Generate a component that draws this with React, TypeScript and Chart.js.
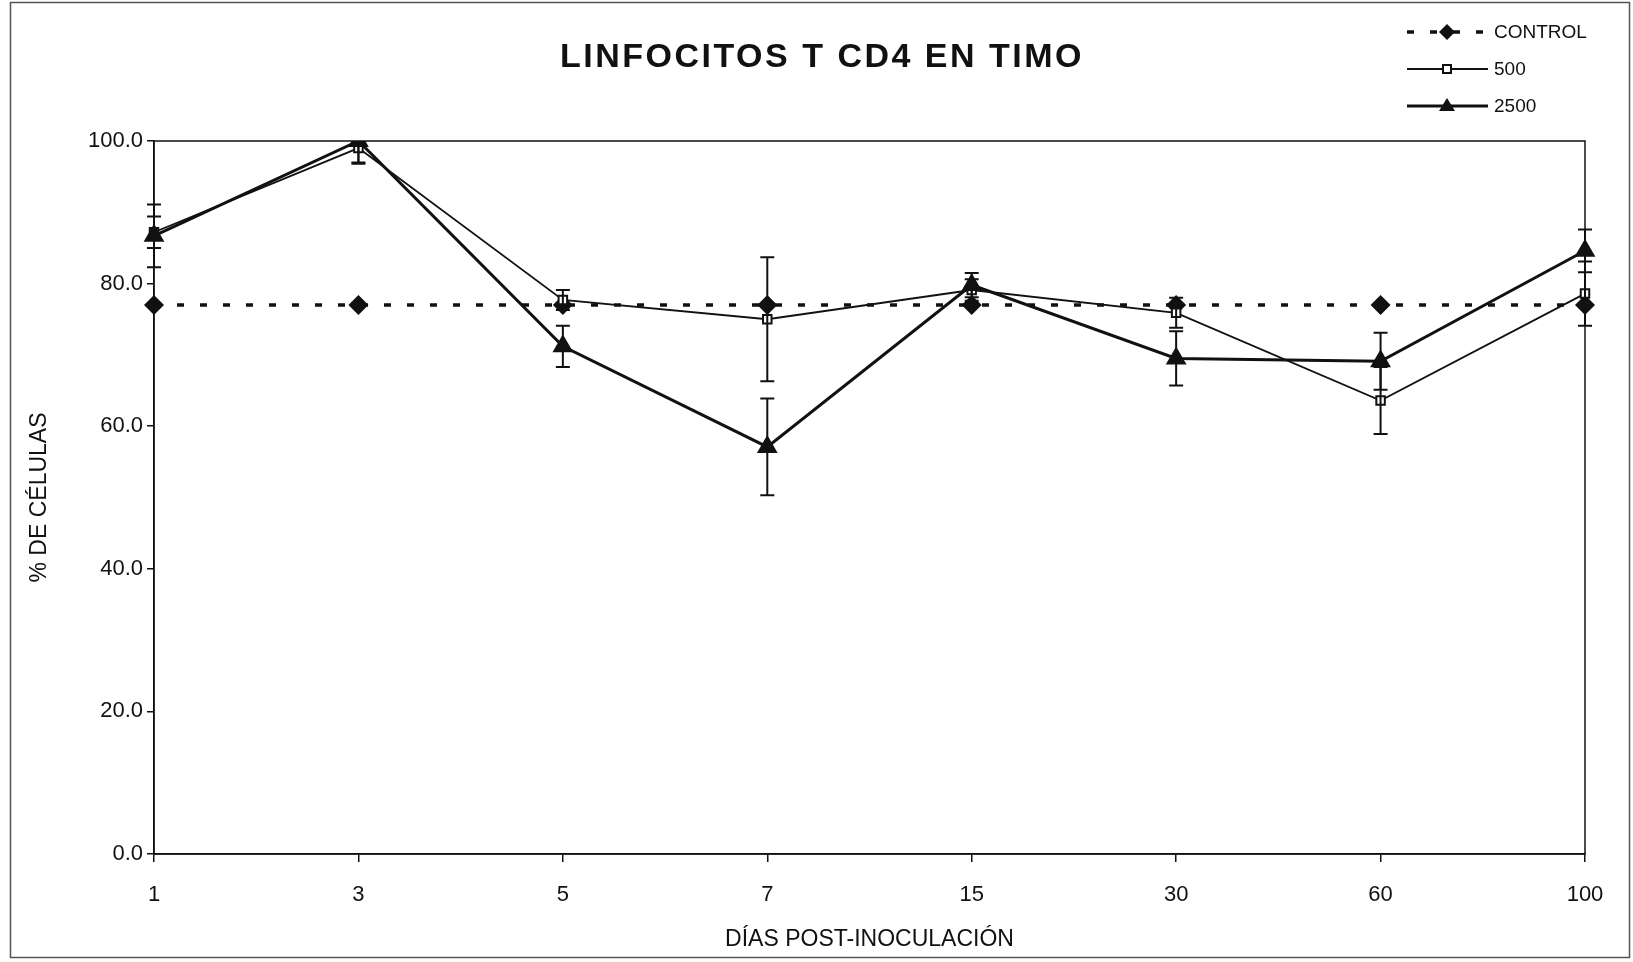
import React, { useEffect, useRef } from "react";
import { Chart, registerables } from "chart.js";

Chart.register(...registerables);

const chartTitle = "LINFOCITOS T CD4 EN TIMO";
const xAxisTitle = "DÍAS POST-INOCULACIÓN";
const yAxisTitle = "% DE CÉLULAS";
const days = ["1", "3", "5", "7", "15", "30", "60", "100"];
const seriesNames = ["CONTROL", "500", "2500"];
const controlValues = [77.0, 77.0, 77.0, 77.0, 77.0, 77.0, 77.0, 77.0];
const values500 = [87.2, 99.0, 77.7, 75.0, 79.1, 75.9, 63.6, 78.6];
const values2500 = [86.7, 100.0, 71.2, 57.1, 79.8, 69.5, 69.1, 84.6];
const errors500 = [2.2, 2.0, 1.4, 8.7, 1.5, 2.1, 4.7, 4.5];
const errors2500 = [4.4, 3.2, 2.9, 6.8, 1.7, 3.8, 4.0, 3.0];
const yTicks = [0, 20, 40, 60, 80, 100];

const FONT = '"Liberation Sans", Arial, sans-serif';

export default function App() {
  const ref = useRef<HTMLCanvasElement | null>(null);

  useEffect(() => {
    if (!ref.current) return;

    const errorBars = {
      id: "errorBars",
      afterDatasetsDraw(chart: any) {
        const { ctx, chartArea } = chart;
        const y = chart.scales.y;
        const x = chart.scales.x;
        ctx.save();
        ctx.beginPath();
        ctx.rect(chartArea.left - 20, chartArea.top, chartArea.right - chartArea.left + 40, chartArea.bottom - chartArea.top);
        ctx.clip();
        ctx.strokeStyle = "#111";
        ctx.lineWidth = 2;
        const sets = [
          { vals: values500, errs: errors500 },
          { vals: values2500, errs: errors2500 },
        ];
        sets.forEach((s) => {
          s.vals.forEach((v, i) => {
            const px = x.getPixelForValue(i);
            const top = y.getPixelForValue(v + s.errs[i]);
            const bot = y.getPixelForValue(v - s.errs[i]);
            ctx.beginPath();
            ctx.moveTo(px, top);
            ctx.lineTo(px, bot);
            ctx.moveTo(px - 7, top);
            ctx.lineTo(px + 7, top);
            ctx.moveTo(px - 7, bot);
            ctx.lineTo(px + 7, bot);
            ctx.stroke();
          });
        });
        ctx.restore();
      },
    };

    const decorations = {
      id: "decorations",
      beforeDraw(chart: any) {
        const { ctx } = chart;
        ctx.save();
        ctx.fillStyle = "#fff";
        ctx.fillRect(0, 0, chart.width, chart.height);
        ctx.strokeStyle = "#555";
        ctx.lineWidth = 1.5;
        ctx.strokeRect(10.5, 2.5, 1619, 955);
        ctx.restore();
      },
      afterDraw(chart: any) {
        const { ctx, chartArea } = chart;
        ctx.save();
        // plot frame
        ctx.strokeStyle = "#111";
        ctx.lineWidth = 1.5;
        ctx.strokeRect(chartArea.left, chartArea.top, chartArea.right - chartArea.left, chartArea.bottom - chartArea.top);
        // title
        ctx.fillStyle = "#111";
        ctx.font = `bold 34px ${FONT}`;
        (ctx as any).letterSpacing = "2.5px";
        ctx.textAlign = "center";
        ctx.textBaseline = "middle";
        ctx.fillText(chartTitle, 822, 58);
        (ctx as any).letterSpacing = "0px";
        // legend
        const rows = [32, 69, 106];
        const x0 = 1407;
        const x1 = 1488;
        const xm = 1447;
        ctx.font = `19px ${FONT}`;
        ctx.textAlign = "left";
        rows.forEach((ry, i) => {
          ctx.strokeStyle = "#111";
          ctx.fillStyle = "#111";
          ctx.beginPath();
          if (i === 0) {
            ctx.lineWidth = 3.5;
            ctx.setLineDash([7, 16]);
          } else {
            ctx.lineWidth = i === 1 ? 1.8 : 3;
            ctx.setLineDash([]);
          }
          ctx.moveTo(x0, ry);
          ctx.lineTo(x1, ry);
          ctx.stroke();
          ctx.setLineDash([]);
          ctx.beginPath();
          if (i === 0) {
            ctx.moveTo(xm, ry - 8);
            ctx.lineTo(xm + 8, ry);
            ctx.lineTo(xm, ry + 8);
            ctx.lineTo(xm - 8, ry);
            ctx.closePath();
            ctx.fill();
          } else if (i === 1) {
            ctx.fillStyle = "#fff";
            ctx.lineWidth = 2;
            ctx.rect(xm - 4, ry - 4, 8, 8);
            ctx.fill();
            ctx.stroke();
          } else {
            ctx.moveTo(xm, ry - 8);
            ctx.lineTo(xm + 8, ry + 5);
            ctx.lineTo(xm - 8, ry + 5);
            ctx.closePath();
            ctx.fill();
          }
          ctx.fillStyle = "#111";
          ctx.fillText(seriesNames[i], 1494, ry + 1);
        });
        ctx.restore();
      },
    };

    const chart = new Chart(ref.current, {
      type: "line",
      data: {
        labels: days,
        datasets: [
          {
            label: seriesNames[0],
            data: controlValues,
            borderColor: "#111",
            backgroundColor: "#111",
            borderWidth: 3.5,
            borderDash: [7, 16],
            pointStyle: "rectRot",
            pointRadius: 10,
            pointBorderWidth: 0,
            pointBackgroundColor: "#111",
            fill: false,
            tension: 0,
            order: 3,
          },
          {
            label: seriesNames[1],
            data: values500,
            borderColor: "#111",
            backgroundColor: "#fff",
            borderWidth: 1.8,
            pointStyle: "rect",
            pointRadius: 6,
            pointBorderWidth: 2,
            pointBorderColor: "#111",
            pointBackgroundColor: "#fff",
            fill: false,
            tension: 0,
            order: 2,
          },
          {
            label: seriesNames[2],
            data: values2500,
            borderColor: "#111",
            backgroundColor: "#111",
            borderWidth: 3,
            pointStyle: "triangle",
            pointRadius: 12,
            pointBorderWidth: 0,
            pointBackgroundColor: "#111",
            fill: false,
            tension: 0,
            order: 1,
          },
        ],
      },
      options: {
        responsive: false,
        animation: false,
        layout: { padding: { top: 141, right: 48, left: 0, bottom: 0 } },
        plugins: {
          legend: { display: false },
          title: { display: false },
          tooltip: { enabled: false },
        },
        scales: {
          x: {
            type: "category",
            offset: false,
            afterFit: (s: any) => {
              s.height = 108;
            },
            grid: {
              drawOnChartArea: false,
              drawTicks: true,
              tickLength: 8,
              color: "#111",
              lineWidth: 1.5,
            },
            border: { display: true, color: "#111", width: 1.5 },
            ticks: {
              color: "#111",
              font: { family: FONT, size: 22 },
              padding: 20,
              maxRotation: 0,
            },
            title: {
              display: true,
              text: xAxisTitle,
              color: "#111",
              font: { family: FONT, size: 23 },
              padding: 9,
            },
          },
          y: {
            min: 0,
            max: 100,
            afterFit: (s: any) => {
              s.width = 154;
            },
            afterBuildTicks: (s: any) => {
              s.ticks = yTicks.map((v) => ({ value: v }));
            },
            grid: {
              drawOnChartArea: false,
              drawTicks: true,
              tickLength: 7,
              color: "#111",
              lineWidth: 1.5,
            },
            border: { display: true, color: "#111", width: 1.5 },
            ticks: {
              color: "#111",
              font: { family: FONT, size: 22 },
              padding: 4,
              callback: (v: any) => Number(v).toFixed(1),
            },
            title: {
              display: true,
              text: yAxisTitle,
              color: "#111",
              font: { family: FONT, size: 23 },
              padding: 26,
            },
          },
        },
      },
      plugins: [decorations, errorBars],
    });

    return () => chart.destroy();
  }, []);

  return (
    <div style={{ position: "fixed", left: 0, top: 0, width: 1633, height: 962, background: "#fff" }}>
      <canvas ref={ref} width={1633} height={962} style={{ display: "block" }} />
    </div>
  );
}
